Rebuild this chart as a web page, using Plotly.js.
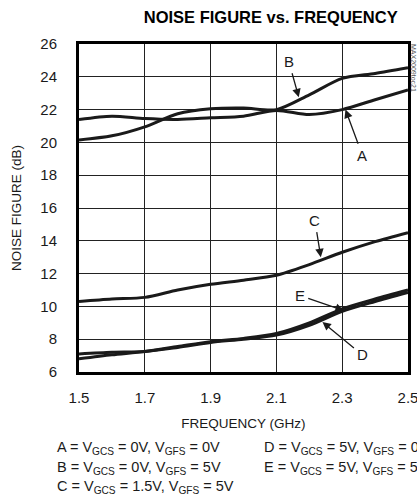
<!DOCTYPE html>
<html>
<head>
<meta charset="utf-8">
<script src="https://cdn.plot.ly/plotly-3.0.1.min.js"></script>
<style>html,body{margin:0;padding:0;background:#fff;}#chart{width:417px;height:501px;}</style>
</head>
<body>
<div id="chart"></div>
<script>
// Frequency (GHz)
const freq = [1.5, 1.6, 1.7, 1.8, 1.9, 2.0, 2.1, 2.2, 2.3, 2.4, 2.5];
// Noise figure (dB) per curve
const curveA = [21.4, 21.6, 21.45, 21.4, 21.5, 21.6, 21.95, 21.7, 22.0, 22.6, 23.2];
const curveB = [20.15, 20.4, 20.95, 21.75, 22.05, 22.1, 22.0, 22.9, 23.9, 24.2, 24.55];
const curveC = [10.3, 10.45, 10.55, 11.0, 11.35, 11.6, 11.9, 12.55, 13.3, 13.95, 14.5];
const curveD = [7.1, 7.2, 7.25, 7.5, 7.8, 8.0, 8.25, 8.85, 9.7, 10.3, 10.85];
const curveE = [6.8, 7.05, 7.25, 7.55, 7.85, 8.05, 8.35, 9.0, 9.85, 10.45, 11.0];
const curveNames = ['A', 'B', 'C', 'D', 'E'];
const xTicks = [1.5, 1.7, 1.9, 2.1, 2.3, 2.5];
const yTicks = [6, 8, 10, 12, 14, 16, 18, 20, 22, 24, 26];
const legendLines = [
  'A = V<sub>GCS</sub> = 0V, V<sub>GFS</sub> = 0V',
  'B = V<sub>GCS</sub> = 0V, V<sub>GFS</sub> = 5V',
  'C = V<sub>GCS</sub> = 1.5V, V<sub>GFS</sub> = 5V',
  'D = V<sub>GCS</sub> = 5V, V<sub>GFS</sub> = 0V',
  'E = V<sub>GCS</sub> = 5V, V<sub>GFS</sub> = 5V'
];

const FONT = '"Liberation Sans", Arial, sans-serif';
const INK = '#1a1a1a';

const series = [curveA, curveB, curveC, curveD, curveE];
const traces = series.map((ys, i) => ({
  x: freq, y: ys, name: curveNames[i], type: 'scatter', mode: 'lines',
  line: {color: INK, width: 3, shape: 'spline', smoothing: 0.8},
  hoverinfo: 'x+y+name'
}));

const annotations = [];
// curve labels with arrows (text at tail, arrow to curve)
function label(txt, tx, ty, axp, ayp) {
  annotations.push({
    x: tx, y: ty, xref: 'x', yref: 'y', text: txt, showarrow: true,
    ax: axp, ay: ayp, arrowhead: 2, arrowsize: 1.3, arrowwidth: 1.3,
    arrowcolor: INK, standoff: 0, startstandoff: 2,
    font: {family: FONT, size: 15, color: INK}
  });
}
label('B', 2.168, 22.75, -10, -36);
label('A', 2.31, 22.0, 17, 46);
label('C', 2.235, 13.0, -6, -37);
label('E', 2.305, 9.75, -44, -15);
label('D', 2.24, 9.05, 40, 33);

// legend text under the plot
const legX = [0.132, 0.132, 0.132, 0.628, 0.628];
const legY = [448, 468, 487, 448, 468];
legendLines.forEach((t, i) => {
  annotations.push({
    xref: 'paper', yref: 'paper', x: (legX[i] * 417 - 79) / 329, y: (372 - legY[i]) / 328,
    xanchor: 'left', yanchor: 'middle', showarrow: false, text: t,
    font: {family: FONT, size: 14.5, color: INK}
  });
});
// side code text
annotations.push({
  xref: 'paper', yref: 'paper', x: (413 - 79) / 329, y: (372 - 68) / 328,
  xanchor: 'center', yanchor: 'middle', showarrow: false, textangle: 90,
  text: 'MAX2009toc21', font: {family: FONT, size: 7, color: '#555'}
});

const layout = {
  width: 417, height: 501,
  margin: {l: 79, r: 9, t: 44, b: 129},
  paper_bgcolor: '#fff', plot_bgcolor: '#fff',
  showlegend: false,
  title: {
    text: '<b>NOISE FIGURE vs. FREQUENCY</b>',
    x: 243 / 417, xanchor: 'center', xref: 'paper',
    y: 1 - 17 / 501, yanchor: 'middle', yref: 'container',
    font: {family: FONT, size: 16.5, color: '#000', weight: 700}
  },
  xaxis: {
    range: [1.5, 2.5], tickvals: xTicks, ticktext: xTicks.map(v => v.toFixed(1)),
    showgrid: true, gridcolor: '#222', gridwidth: 1,
    showline: true, linecolor: '#000', linewidth: 3, mirror: true,
    ticks: '', zeroline: false, ticklabelstandoff: 10, ticklabeloverflow: 'allow',
    tickfont: {family: FONT, size: 15, color: INK},
    title: {text: 'FREQUENCY (GHz)', standoff: 14, font: {family: FONT, size: 13.5, color: INK}}
  },
  yaxis: {
    range: [6, 26], tickvals: yTicks,
    showgrid: true, gridcolor: '#222', gridwidth: 1,
    showline: true, linecolor: '#000', linewidth: 3, mirror: true,
    ticks: '', zeroline: false, ticklabelstandoff: 16, ticklabeloverflow: 'allow',
    tickfont: {family: FONT, size: 15, color: INK},
    title: {text: 'NOISE FIGURE (dB)', standoff: 16, font: {family: FONT, size: 13.5, color: INK}}
  },
  annotations: annotations
};

Plotly.newPlot('chart', traces, layout, {displayModeBar: false, staticPlot: true});
</script>
</body>
</html>
